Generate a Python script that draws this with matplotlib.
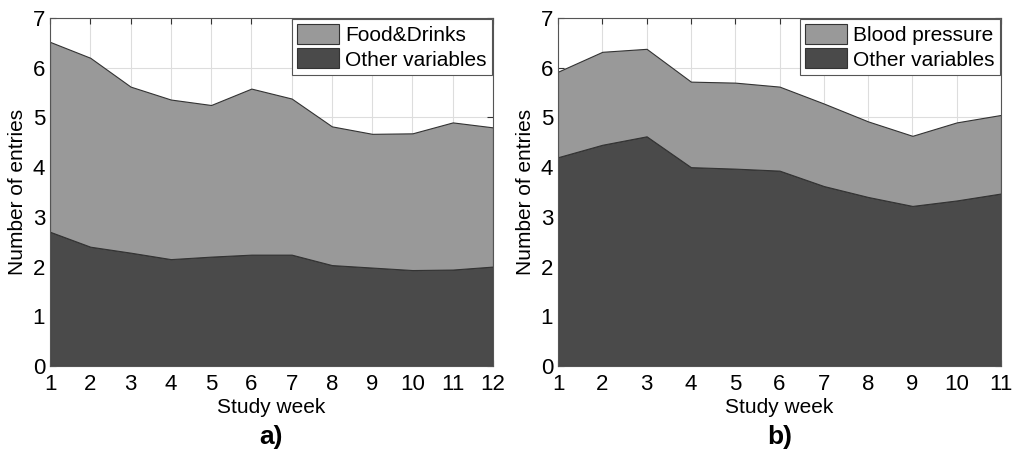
import matplotlib
matplotlib.use('Agg')
from matplotlib import pyplot as plt

plt.rcParams['font.family'] = ['Liberation Sans', 'DejaVu Sans']

weeks_a = list(range(1, 13))
other_a = [2.70, 2.40, 2.28, 2.15, 2.20, 2.24, 2.24, 2.03, 1.98, 1.93, 1.94, 2.00]
food_a = [3.82, 3.80, 3.34, 3.21, 3.05, 3.34, 3.14, 2.79, 2.69, 2.75, 2.96, 2.80]

weeks_b = list(range(1, 12))
other_b = [4.20, 4.45, 4.62, 4.00, 3.97, 3.93, 3.62, 3.40, 3.22, 3.33, 3.47]
bp_b = [1.72, 1.87, 1.76, 1.72, 1.73, 1.69, 1.66, 1.52, 1.41, 1.57, 1.58]

LIGHT = '#999999'
DARK = '#4a4a4a'

fig = plt.figure(figsize=(10.16, 4.55), dpi=100)
W, H = 1016, 455
ax_a = fig.add_axes([50 / W, 1 - 366 / H, 443 / W, 348 / H])
ax_b = fig.add_axes([558 / W, 1 - 366 / H, 443 / W, 348 / H])


def panel(ax, weeks, other, extra, extra_label, tag):
    polys = ax.stackplot(weeks, other, extra, colors=[DARK, LIGHT],
                         edgecolor='#333333', linewidth=0.8, zorder=2)
    ax.set_xlim(weeks[0], weeks[-1])
    ax.set_ylim(0, 7)
    ax.set_xticks(weeks)
    ax.set_yticks(range(0, 8))
    ax.grid(True, color='#dddddd', linewidth=0.8, zorder=0)
    ax.set_axisbelow(True)
    ax.tick_params(direction='in', top=True, right=True, labelsize=16,
                   length=4, color='#333333')
    ax.tick_params(axis='x', pad=6)
    for s in ax.spines.values():
        s.set_color('#555555')
    ax.set_xlabel('Study week', fontsize=15, labelpad=2)
    ax.set_ylabel('Number of entries', fontsize=15, labelpad=4)
    leg = ax.legend([polys[1], polys[0]], [extra_label, 'Other variables'],
                    loc='upper right', fontsize=15, fancybox=False,
                    framealpha=1, edgecolor='#555555', borderaxespad=0.05,
                    handlelength=2.0, handleheight=1.1, handletextpad=0.3,
                    labelspacing=0.15, borderpad=0.25)
    leg.get_frame().set_linewidth(0.8)
    ax.text(0.5, -0.205, tag, transform=ax.transAxes, ha='center', va='center',
            fontsize=19, fontweight='bold')


panel(ax_a, weeks_a, other_a, food_a, 'Food&Drinks', 'a)')
panel(ax_b, weeks_b, other_b, bp_b, 'Blood pressure', 'b)')

fig.savefig('out.png', dpi=100)
